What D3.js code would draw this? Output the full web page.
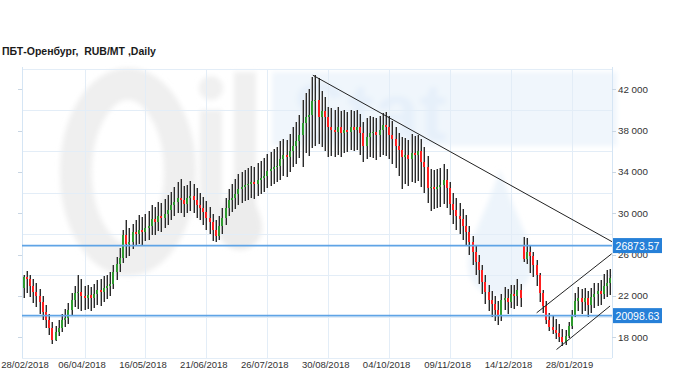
<!DOCTYPE html>
<html><head><meta charset="utf-8">
<script src="https://cdn.jsdelivr.net/npm/d3@7/dist/d3.min.js"></script>
<style>html,body{margin:0;padding:0;background:#fff;}svg{display:block;}text{white-space:pre;}</style>
</head><body><svg id="c" width="680" height="380"></svg>
<script>
const title = "ПБТ-Оренбург,  RUB/MT ,Daily";
const tickIndex = [0, 19, 38, 57, 76, 95, 114, 133, 152, 171];
const tickLabels = ["28/02/2018","06/04/2018","16/05/2018","21/06/2018","26/07/2018","30/08/2018","04/10/2018","09/11/2018","14/12/2018","28/01/2019"];
const yTicks = [18000, 22000, 26000, 30000, 34000, 38000, 42000];
const yGrid = [16000, 20000, 24000, 28000, 32000, 36000, 40000, 44000];
const levels = [26873.57, 20098.63];
const trendLines = [
  [[90.2, 43350], [183.5, 27250]],
  [[160, 20370], [183.4, 26080]],
  [[166.2, 16820], [182.9, 21030]]
];
const openP = [
22750,23800,23600,23000,22400,22000,21400,20450,19650,18900,
17750,18500,18900,19650,19850,20650,21600,22300,22400,22000,
21800,22100,21800,22200,22600,22400,22750,22950,23150,24350,
25100,25700,27900,27000,27250,28200,28000,28400,28200,28600,
28800,29400,29200,29750,29550,29950,30350,30750,31100,31500,
31300,30850,31500,31700,31300,30750,30550,30150,29550,29200,
28400,27800,28800,29550,30550,31300,31500,31900,32300,32500,
32700,32850,33050,32850,33250,33450,33650,34050,34250,34450,
34600,35200,35600,35400,36000,36550,36950,37550,38700,39300,
39500,40850,41000,39300,39850,39300,38300,38100,37900,38300,
37750,38100,37900,38300,38100,38300,37750,36550,37350,37750,
37900,37550,38100,38500,38300,37550,37150,36550,36150,35400,
35600,35200,35800,35600,36000,35000,34450,32400,32500,32300,
32500,32700,33200,32400,30900,30350,29750,29400,28800,28200,
27250,26250,25300,24500,23350,22400,21600,21200,20650,20100,
21600,21800,21400,22200,22000,22600,26800,25600,26300,25900,
25000,24000,22300,21000,19700,19000,18700,18400,18000,17500,
18100,19100,20200,21500,21800,21400,21800,21100,21900,22200,
22500,22200,23000,23300];
const highP = [
24050,24400,24000,23600,23300,22700,22000,21100,20300,19500,
19100,19700,20300,20700,21300,22300,23000,24000,23600,23000,
23100,22900,23200,23500,23600,23900,24000,24300,25000,25800,
26600,28400,29350,28600,29000,29300,29800,29600,29900,30200,
30800,30600,31100,31000,31400,31800,32100,32500,33000,33300,
32600,32700,33100,32800,32400,32000,31600,31200,30600,29900,
29300,29700,30500,31500,32300,32800,33300,33800,34000,34200,
34400,34600,34500,34900,35100,35300,35700,35900,36200,36400,
37000,37200,37100,37700,38300,38800,39500,41000,41600,42000,
43200,43400,43100,41800,41200,40300,40200,40000,40300,39900,
40000,39800,40000,39900,40000,39600,38800,39200,39400,39300,
39200,39400,39700,39800,39400,38900,38300,37800,37400,37300,
37100,37700,37500,37600,37200,36400,35500,34300,34200,34300,
34400,34800,34300,33000,32000,31500,31000,30400,29800,28800,
27800,26900,26000,25000,24000,23100,22500,22000,21500,22200,
22900,22700,23100,23100,23600,23200,27700,27600,26800,26300,
25500,24200,22600,21500,20400,20200,19800,19300,18800,18700,
19500,20600,22300,22900,22700,22800,22500,22800,23300,23300,
23500,24100,24500,24600];
const lowP = [
21800,22300,21900,21300,20900,20300,19700,18900,18200,17400,
17600,18100,18500,19000,19300,20200,20900,20700,20500,20600,
20700,20500,20800,21100,21000,21400,21700,22000,22700,23500,
24300,25200,25700,25900,26500,26800,27000,26900,27300,27400,
27900,27900,28300,28200,28600,28900,29300,29700,30000,30000,
29600,30000,30200,30000,29500,29300,28900,28400,28000,27300,
27200,27400,28000,28900,29700,30100,30400,30800,31000,31200,
31300,31500,31400,31700,31900,32100,32400,32600,32800,33000,
33200,33600,33500,34000,34500,34800,35300,34500,35800,35500,
36300,36500,36700,36400,36000,35400,35500,35400,35600,35400,
35800,35900,36100,36000,36100,35600,35000,35200,35400,35300,
35150,35400,35600,35500,35200,34800,34400,33600,32300,32800,
32600,33000,32900,33100,32500,32000,31000,30200,30400,30500,
30600,30900,30500,29800,29000,28400,28000,27400,26800,26000,
25000,24000,23200,22200,21200,20500,20000,19600,19200,19600,
20600,20300,20800,20700,21000,20900,25300,25100,24200,23800,
23000,21400,20400,19300,18600,18300,17800,17500,17200,17300,
17900,18800,20000,20500,20300,20500,20000,20400,20800,21000,
21100,21700,21900,22100];
const closeP = [
23800,23600,23000,22400,22000,21400,20450,19650,18900,17750,
18500,18900,19650,19850,20650,21600,22300,22400,22000,21800,
22100,21800,22200,22600,22400,22750,22950,23150,24350,25100,
25700,27900,27000,27250,28200,28000,28400,28200,28600,28800,
29400,29200,29750,29550,29950,30350,30750,31100,31500,31300,
30850,31500,31700,31300,30750,30550,30150,29550,29200,28400,
27800,28800,29550,30550,31300,31500,31900,32300,32500,32700,
32850,33050,32850,33250,33450,33650,34050,34250,34450,34600,
35200,35600,35400,36000,36550,36950,37550,38700,39300,39500,
40850,41000,39300,39850,39300,38300,38100,37900,38300,37750,
38100,37900,38300,38100,38300,37750,36550,37350,37750,37900,
37550,38100,38500,38300,37550,37150,36550,36150,35400,35600,
35200,35800,35600,36000,35000,34450,32400,32500,32300,32500,
32700,33200,32400,30900,30350,29750,29400,28800,28200,27250,
26250,25300,24500,23350,22400,21600,21200,20650,20100,21600,
21800,21400,22200,22000,22600,21800,25600,26300,25900,25000,
24000,22300,21000,19700,19000,18700,18400,18000,17500,18100,
19100,20200,21500,21800,21400,21800,21100,21900,22200,22500,
22200,23000,23300,23700];

const N = closeP.length;
const L = 22, R = 612, T = 68.5, B = 358;
const svg = d3.select("#c");
const x = d3.scaleBand().domain(d3.range(N)).range([L, R]).padding(0);
const step = x.step();
const cx = i => x(i) + step / 2;
const xl = d3.scaleLinear().domain([0, N - 1]).range([cx(0), cx(N - 1)]);
const y = d3.scaleLinear().domain([16000, 44000]).range([B, T]);
const FONT = "'Liberation Sans', Arial, sans-serif";

// watermark
const defs = svg.append("defs");
defs.append("filter").attr("id", "soft").append("feGaussianBlur").attr("stdDeviation", 2.5);
const wm = svg.append("g").attr("filter", "url(#soft)");
wm.append("ellipse").attr("cx", 128).attr("cy", 172).attr("rx", 52).attr("ry", 88)
  .attr("fill", "none").attr("stroke", "#efefef").attr("stroke-width", 32);
wm.append("rect").attr("x", 200).attr("y", 110).attr("width", 22).attr("height", 110).attr("fill", "#f0f0f0");
wm.append("circle").attr("cx", 211).attr("cy", 88).attr("r", 12).attr("fill", "#f0f0f0");
wm.append("rect").attr("x", 234).attr("y", 72).attr("width", 22).attr("height", 150).attr("fill", "#f0f0f0");
wm.append("path").attr("d", "M240,168 C228,200 218,212 218,228 A22,22 0 0 0 262,228 C262,212 252,200 240,168 Z").attr("fill", "#ececec");
wm.append("rect").attr("x", 272).attr("y", 72).attr("width", 345).attr("height", 74).attr("fill", "#f0f6fc");
wm.append("text").attr("x", 292).attr("y", 140).attr("font-family", FONT).attr("font-weight", "bold")
  .attr("font-size", 82).attr("fill", "#e6f0fa").text("Stat");
wm.append("path").attr("d", "M500,170 C485,215 468,240 468,265 A32,32 0 0 0 532,265 C532,240 515,215 500,170 Z").attr("fill", "#edf4fb");

// grid
const grid = svg.append("g").attr("shape-rendering", "crispEdges");
grid.selectAll("line.h").data(yGrid).join("line")
  .attr("x1", L).attr("x2", R).attr("y1", d => Math.round(y(d)) + 0.5).attr("y2", d => Math.round(y(d)) + 0.5)
  .attr("stroke", "#e3edf7").attr("stroke-width", 1);
grid.selectAll("line.v").data(tickIndex.slice(1)).join("line")
  .attr("x1", d => Math.round(cx(d)) + 0.5).attr("x2", d => Math.round(cx(d)) + 0.5).attr("y1", T).attr("y2", B)
  .attr("stroke", "#e3edf7");
grid.append("line").attr("x1", L + 0.5).attr("x2", L + 0.5).attr("y1", T - 2).attr("y2", B).attr("stroke", "#d5e5f4");
grid.append("line").attr("x1", R + 0.5).attr("x2", R + 0.5).attr("y1", T - 2).attr("y2", B).attr("stroke", "#d5e5f4");
grid.selectAll("line.lt").data(yTicks).join("line")
  .attr("x1", L - 4).attr("x2", L).attr("y1", d => Math.round(y(d)) + 0.5).attr("y2", d => Math.round(y(d)) + 0.5)
  .attr("stroke", "#c9d6e3");
grid.selectAll("line.rt").data(yTicks).join("line")
  .attr("x1", R).attr("x2", R + 4).attr("y1", d => Math.round(y(d)) + 0.5).attr("y2", d => Math.round(y(d)) + 0.5)
  .attr("stroke", "#c9d6e3");

// axis labels
svg.append("g").selectAll("text").data(tickIndex).join("text")
  .attr("x", (d, i) => Math.max(25, cx(d) - 2.5)).attr("y", 368)
  .attr("text-anchor", "middle").attr("font-family", FONT).attr("font-size", 9.5).attr("fill", "#333")
  .text((d, i) => tickLabels[i]);
svg.append("g").selectAll("text").data(yTicks).join("text")
  .attr("x", R + 6).attr("y", d => y(d) + 3.5)
  .attr("font-family", FONT).attr("font-size", 9.8).attr("fill", "#333")
  .text(d => d3.format(",")(d).replace(",", " "));

// title
svg.append("text").attr("x", 2).attr("y", 55).attr("font-family", FONT).attr("font-weight", "bold")
  .attr("font-size", 10.5).attr("fill", "#1a1a1a").attr("xml:space", "preserve").text(title);

// candles
const cg = svg.append("g").attr("shape-rendering", "crispEdges");
d3.range(N).forEach(i => {
  const px = Math.round(cx(i));
  const yh = y(highP[i]), ylw = y(lowP[i]);
  cg.append("rect").attr("x", px - 1).attr("y", yh).attr("width", 1).attr("height", ylw - yh).attr("fill", "#a6a6a6");
  cg.append("rect").attr("x", px).attr("y", yh).attr("width", 1).attr("height", ylw - yh).attr("fill", "#2b2b2b");
  const o = openP[i], c = closeP[i];
  const top = y(Math.max(o, c)), bot = y(Math.min(o, c));
  const col = c > o ? "#2e9a2e" : (c < o ? "#ff1f1f" : "#111");
  cg.append("rect").attr("x", px - 1).attr("y", top).attr("width", 2).attr("height", Math.max(1, bot - top)).attr("fill", col);
});

// level lines
svg.selectAll("line.lvl").data(levels).join("line")
  .attr("x1", L).attr("x2", R).attr("y1", d => y(d)).attr("y2", d => y(d))
  .attr("stroke", "#5fa4e6").attr("stroke-width", 1.6);

// trend lines
svg.selectAll("line.tr").data(trendLines).join("line")
  .attr("x1", d => xl(d[0][0])).attr("y1", d => y(d[0][1]))
  .attr("x2", d => xl(d[1][0])).attr("y2", d => y(d[1][1]))
  .attr("stroke", "#222").attr("stroke-width", 1);

// level labels
const lg = svg.append("g").selectAll("g").data(levels).join("g");
lg.append("rect").attr("x", R + 1).attr("y", d => y(d) - 7.5).attr("width", 49).attr("height", 15).attr("fill", "#2680d8");
lg.append("text").attr("x", R + 25.5).attr("y", d => y(d) + 4).attr("text-anchor", "middle")
  .attr("font-family", FONT).attr("font-size", 10.5).attr("fill", "#fff").text(d => d.toFixed(2));
</script></body></html>
